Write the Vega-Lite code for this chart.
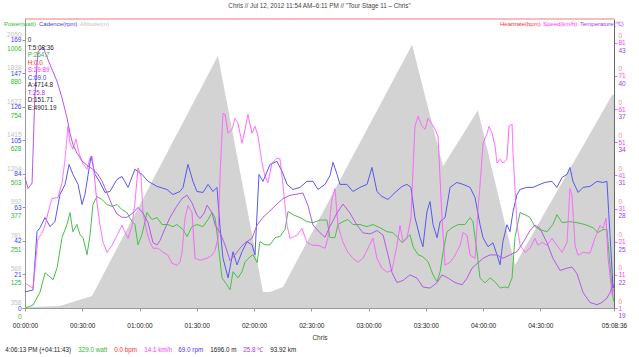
{
  "$schema": "https://vega.github.io/schema/vega-lite/v6.json",
  "width": 589,
  "height": 289,
  "autosize": {"type": "none"},
  "padding": {"left": 25, "top": 19, "right": 25, "bottom": 49},
  "background": "white",
  "title": {"text": "Chris // Jul 12, 2012 11:54 AM–6:11 PM // \"Tour Stage 11 – Chris\"", "fontSize": 6.3, "font": "Liberation Sans", "fontWeight": "normal", "color": "#444", "anchor": "middle", "offset": 8},
  "config": {
    "font": "Liberation Sans",
    "view": {"stroke": null},
    "axis": {"labelFont": "Liberation Sans", "labelFontSize": 6.5, "grid": false},
    "legend": {"labelFont": "Liberation Sans", "labelFontSize": 6, "symbolSize": 0, "symbolOpacity": 0, "symbolStrokeWidth": 0, "labelOffset": -7, "padding": 0, "labelLimit": 300}
  },
  "datasets": {
    "alt": [
      {"t": 0, "alt": 362}, {"t": 4, "alt": 364}, {"t": 18.3, "alt": 371}, {"t": 35.1, "alt": 434},
      {"t": 101.1, "alt": 1949}, {"t": 124.7, "alt": 459}, {"t": 128.4, "alt": 459}, {"t": 135.2, "alt": 491},
      {"t": 202.8, "alt": 2018}, {"t": 219.0, "alt": 1252}, {"t": 237.3, "alt": 1606}, {"t": 256.7, "alt": 630},
      {"t": 307.6, "alt": 1701}, {"t": 308.6, "alt": 1701}
    ],
    "hr": [{"t": 0, "hr": 0}, {"t": 308.6, "hr": 0}],
    "power": [
      {"t":0,"w":0},{"t":4.2,"w":11},{"t":7.9,"w":60},{"t":10.5,"w":132},{"t":13.1,"w":117},{"t":14.7,"w":106},{"t":16.8,"w":151},{"t":19.4,"w":264},{"t":22.0,"w":313},{"t":23.6,"w":358},{"t":25.1,"w":286},{"t":27.2,"w":313},{"t":28.8,"w":275},{"t":30.4,"w":264},{"t":32.5,"w":200},{"t":34.1,"w":275},{"t":35.6,"w":388},{"t":37.7,"w":418},{"t":40.3,"w":407},{"t":43.0,"w":388},{"t":45.6,"w":381},{"t":48.2,"w":388},{"t":50.8,"w":369},{"t":53.4,"w":358},{"t":56.1,"w":324},{"t":57.6,"w":313},{"t":59.2,"w":237},{"t":61.3,"w":275},{"t":63.9,"w":358},{"t":66.5,"w":332},{"t":69.2,"w":339},{"t":71.8,"w":313},{"t":74.9,"w":313},{"t":77.5,"w":305},{"t":79.6,"w":313},{"t":82.8,"w":294},{"t":84.9,"w":268},{"t":87.5,"w":305},{"t":90.1,"w":313},{"t":93.3,"w":305},{"t":95.9,"w":332},{"t":98.0,"w":358},{"t":99.6,"w":339},{"t":101.1,"w":249},{"t":103.2,"w":113},{"t":105.8,"w":87},{"t":107.4,"w":68},{"t":109.0,"w":136},{"t":111.6,"w":113},{"t":113.7,"w":136},{"t":115.3,"w":173},{"t":117.9,"w":192},{"t":119.5,"w":200},{"t":121.6,"w":170},{"t":123.1,"w":249},{"t":125.7,"w":237},{"t":128.4,"w":237},{"t":131.0,"w":264},{"t":133.6,"w":268},{"t":136.2,"w":294},{"t":137.8,"w":362},{"t":140.4,"w":350},{"t":144.1,"w":339},{"t":147.7,"w":324},{"t":150.9,"w":320},{"t":154.6,"w":330},{"t":158.2,"w":330},{"t":159.8,"w":264},{"t":162.4,"w":264},{"t":164.0,"w":313},{"t":166.6,"w":324},{"t":169.2,"w":332},{"t":171.8,"w":313},{"t":175.5,"w":313},{"t":179.2,"w":305},{"t":182.3,"w":313},{"t":186.0,"w":301},{"t":189.7,"w":286},{"t":192.8,"w":283},{"t":195.4,"w":264},{"t":197.5,"w":245},{"t":200.1,"w":264},{"t":201.7,"w":275},{"t":203.3,"w":230},{"t":205.9,"w":200},{"t":208.5,"w":192},{"t":211.2,"w":173},{"t":213.8,"w":124},{"t":215.9,"w":98},{"t":217.5,"w":136},{"t":219.1,"w":211},{"t":221.1,"w":286},{"t":223.7,"w":301},{"t":226.9,"w":313},{"t":230.5,"w":313},{"t":233.2,"w":339},{"t":234.7,"w":324},{"t":236.8,"w":211},{"t":238.4,"w":113},{"t":241.0,"w":94},{"t":243.6,"w":113},{"t":246.3,"w":98},{"t":248.9,"w":75},{"t":251.5,"w":79},{"t":253.1,"w":75},{"t":255.2,"w":113},{"t":256.7,"w":264},{"t":259.4,"w":358},{"t":262.0,"w":350},{"t":264.6,"w":339},{"t":267.2,"w":305},{"t":269.8,"w":294},{"t":273.5,"w":286},{"t":276.6,"w":313},{"t":278.7,"w":350},{"t":281.4,"w":320},{"t":285.5,"w":324},{"t":289.2,"w":320},{"t":293.4,"w":313},{"t":297.6,"w":301},{"t":300.2,"w":283},{"t":302.8,"w":294},{"t":304.9,"w":294},{"t":306.5,"w":162},{"t":308.1,"w":38},{"t":308.6,"w":23}
    ],
    "cad": [
      {"t":0,"c":10.1},{"t":4.2,"c":11.4},{"t":6.3,"c":48.1},{"t":7.9,"c":50.6},{"t":10.5,"c":57.0},{"t":13.1,"c":51.3},{"t":15.7,"c":54.4},{"t":18.3,"c":71.5},{"t":21.0,"c":77.9},{"t":23.1,"c":90.5},{"t":25.1,"c":84.2},{"t":27.8,"c":77.9},{"t":29.9,"c":65.2},{"t":31.4,"c":71.5},{"t":34.6,"c":95.6},{"t":36.7,"c":84.2},{"t":39.3,"c":79.1},{"t":41.9,"c":72.8},{"t":44.5,"c":73.4},{"t":48.2,"c":81.0},{"t":50.8,"c":82.9},{"t":54.0,"c":76.0},{"t":57.6,"c":87.4},{"t":61.3,"c":84.2},{"t":64.5,"c":79.8},{"t":69.2,"c":76.6},{"t":74.4,"c":74.7},{"t":77.5,"c":71.5},{"t":81.2,"c":73.4},{"t":82.8,"c":76.0},{"t":85.4,"c":90.5},{"t":88.0,"c":79.8},{"t":90.1,"c":73.4},{"t":93.3,"c":72.8},{"t":95.9,"c":77.9},{"t":98.5,"c":73.4},{"t":100.6,"c":76.0},{"t":102.2,"c":50.6},{"t":103.7,"c":31.6},{"t":106.4,"c":19.0},{"t":109.0,"c":35.4},{"t":111.1,"c":27.2},{"t":113.7,"c":35.4},{"t":116.3,"c":41.8},{"t":118.9,"c":39.9},{"t":120.5,"c":33.5},{"t":122.6,"c":84.2},{"t":124.7,"c":79.8},{"t":128.4,"c":90.5},{"t":132.0,"c":92.4},{"t":134.7,"c":86.1},{"t":137.3,"c":77.9},{"t":140.4,"c":74.7},{"t":144.1,"c":76.0},{"t":147.7,"c":79.8},{"t":150.9,"c":79.8},{"t":153.5,"c":74.7},{"t":157.2,"c":77.9},{"t":159.8,"c":83.5},{"t":161.4,"c":91.8},{"t":163.5,"c":84.2},{"t":165.0,"c":77.9},{"t":168.7,"c":77.9},{"t":171.8,"c":73.4},{"t":175.5,"c":76.0},{"t":179.2,"c":77.9},{"t":181.8,"c":88.6},{"t":184.4,"c":73.4},{"t":187.0,"c":70.3},{"t":190.2,"c":68.4},{"t":193.9,"c":72.8},{"t":197.5,"c":76.6},{"t":200.1,"c":77.9},{"t":202.2,"c":76.0},{"t":204.3,"c":57.0},{"t":207.0,"c":44.3},{"t":208.5,"c":38.6},{"t":210.6,"c":60.8},{"t":212.2,"c":67.1},{"t":213.8,"c":52.5},{"t":215.9,"c":44.3},{"t":217.5,"c":54.4},{"t":220.1,"c":57.0},{"t":222.7,"c":76.0},{"t":226.3,"c":79.1},{"t":229.5,"c":77.9},{"t":233.2,"c":76.0},{"t":235.8,"c":69.6},{"t":238.4,"c":52.5},{"t":240.0,"c":44.3},{"t":242.6,"c":38.6},{"t":245.2,"c":41.1},{"t":247.3,"c":33.5},{"t":248.9,"c":27.2},{"t":250.4,"c":41.8},{"t":252.5,"c":52.5},{"t":254.1,"c":48.1},{"t":255.7,"c":60.8},{"t":257.8,"c":71.5},{"t":259.4,"c":74.7},{"t":263.0,"c":76.0},{"t":266.2,"c":76.0},{"t":269.8,"c":77.9},{"t":272.4,"c":79.1},{"t":276.1,"c":79.8},{"t":278.7,"c":76.0},{"t":281.4,"c":82.3},{"t":284.0,"c":84.2},{"t":285.5,"c":88.6},{"t":287.1,"c":79.8},{"t":289.8,"c":72.8},{"t":292.4,"c":76.0},{"t":296.0,"c":76.6},{"t":299.7,"c":79.8},{"t":302.8,"c":79.1},{"t":304.9,"c":79.8},{"t":306.5,"c":46.2},{"t":308.1,"c":12.7},{"t":308.6,"c":14.6}
    ],
    "speed": [
      {"t":0,"s":8.5},{"t":4.2,"s":7.0},{"t":6.8,"s":22.0},{"t":8.9,"s":23.5},{"t":10.5,"s":25.9},{"t":12.1,"s":29.8},{"t":14.1,"s":34.0},{"t":17.3,"s":34.3},{"t":19.4,"s":38.8},{"t":21.0,"s":45.9},{"t":22.5,"s":55.8},{"t":23.6,"s":50.7},{"t":25.1,"s":48.9},{"t":26.7,"s":51.9},{"t":28.3,"s":47.7},{"t":30.4,"s":44.4},{"t":32.5,"s":42.9},{"t":34.1,"s":46.2},{"t":35.1,"s":46.8},{"t":36.2,"s":41.7},{"t":37.7,"s":32.8},{"t":39.3,"s":25.9},{"t":40.9,"s":20.8},{"t":43.0,"s":17.8},{"t":45.6,"s":19.9},{"t":48.2,"s":22.9},{"t":50.8,"s":25.9},{"t":52.4,"s":23.8},{"t":54.0,"s":22.0},{"t":56.1,"s":25.9},{"t":57.6,"s":32.8},{"t":59.2,"s":43.2},{"t":60.8,"s":40.8},{"t":61.8,"s":29.8},{"t":63.9,"s":23.8},{"t":65.5,"s":20.8},{"t":67.1,"s":19.0},{"t":69.7,"s":19.0},{"t":72.3,"s":17.8},{"t":74.9,"s":16.9},{"t":77.0,"s":14.5},{"t":79.6,"s":13.9},{"t":81.2,"s":14.8},{"t":82.3,"s":17.8},{"t":83.8,"s":28.0},{"t":85.4,"s":31.9},{"t":87.5,"s":29.8},{"t":89.1,"s":16.0},{"t":91.7,"s":15.4},{"t":95.4,"s":16.0},{"t":98.0,"s":16.9},{"t":99.6,"s":18.4},{"t":101.1,"s":22.0},{"t":102.2,"s":40.8},{"t":103.7,"s":59.7},{"t":104.8,"s":59.4},{"t":106.4,"s":53.7},{"t":108.5,"s":54.9},{"t":110.0,"s":58.2},{"t":111.6,"s":56.7},{"t":113.7,"s":50.7},{"t":115.3,"s":54.9},{"t":116.8,"s":59.4},{"t":118.9,"s":53.7},{"t":120.5,"s":55.8},{"t":122.1,"s":52.8},{"t":124.2,"s":44.7},{"t":125.7,"s":40.8},{"t":127.3,"s":38.8},{"t":129.4,"s":44.7},{"t":132.0,"s":46.2},{"t":133.6,"s":45.9},{"t":135.2,"s":37.9},{"t":137.3,"s":25.9},{"t":138.9,"s":22.0},{"t":142.5,"s":22.9},{"t":145.1,"s":25.0},{"t":147.7,"s":20.8},{"t":150.4,"s":19.9},{"t":153.5,"s":19.9},{"t":157.2,"s":19.0},{"t":158.7,"s":22.0},{"t":160.8,"s":34.0},{"t":162.4,"s":37.0},{"t":164.0,"s":25.9},{"t":166.6,"s":20.8},{"t":169.2,"s":17.8},{"t":171.8,"s":16.0},{"t":174.4,"s":14.8},{"t":177.1,"s":16.0},{"t":179.7,"s":19.0},{"t":182.3,"s":22.0},{"t":184.4,"s":16.0},{"t":187.0,"s":13.0},{"t":189.7,"s":11.8},{"t":192.3,"s":12.4},{"t":194.9,"s":19.9},{"t":196.5,"s":25.9},{"t":198.1,"s":20.8},{"t":200.1,"s":22.0},{"t":202.2,"s":28.0},{"t":204.3,"s":55.8},{"t":205.9,"s":58.8},{"t":208.0,"s":55.8},{"t":209.6,"s":54.9},{"t":211.2,"s":58.2},{"t":213.3,"s":56.4},{"t":214.9,"s":54.9},{"t":216.4,"s":52.8},{"t":218.5,"s":28.0},{"t":220.1,"s":13.9},{"t":222.7,"s":14.8},{"t":225.3,"s":16.9},{"t":228.0,"s":19.9},{"t":229.5,"s":23.8},{"t":231.6,"s":22.9},{"t":233.2,"s":16.9},{"t":235.8,"s":16.0},{"t":237.4,"s":31.0},{"t":238.4,"s":37.9},{"t":240.0,"s":50.7},{"t":242.1,"s":53.7},{"t":243.1,"s":55.8},{"t":244.7,"s":53.7},{"t":246.3,"s":49.8},{"t":247.3,"s":44.7},{"t":248.9,"s":45.9},{"t":250.4,"s":44.7},{"t":252.5,"s":45.9},{"t":253.6,"s":55.8},{"t":255.2,"s":56.4},{"t":255.7,"s":47.7},{"t":257.8,"s":25.9},{"t":259.4,"s":19.9},{"t":262.0,"s":17.8},{"t":264.6,"s":19.0},{"t":267.2,"s":22.0},{"t":268.8,"s":19.9},{"t":270.9,"s":20.8},{"t":273.5,"s":19.9},{"t":276.1,"s":22.0},{"t":278.7,"s":19.9},{"t":281.4,"s":17.8},{"t":284.0,"s":20.8},{"t":285.5,"s":37.0},{"t":286.6,"s":34.9},{"t":288.2,"s":19.9},{"t":289.8,"s":16.9},{"t":292.4,"s":17.8},{"t":296.0,"s":17.5},{"t":298.6,"s":22.0},{"t":301.3,"s":25.9},{"t":302.8,"s":25.0},{"t":304.4,"s":28.0},{"t":305.5,"s":16.0},{"t":307.6,"s":4.9},{"t":308.6,"s":7.0}
    ],
    "temp": [
      {"t":0,"c":30.8},{"t":1.6,"c":29.8},{"t":3.7,"c":30.3},{"t":5.2,"c":38.4},{"t":6.8,"c":42.2},{"t":9.4,"c":42.6},{"t":11.5,"c":41.7},{"t":14.1,"c":40.6},{"t":16.8,"c":39.5},{"t":19.4,"c":38.0},{"t":22.0,"c":36.2},{"t":23.6,"c":34.8},{"t":25.1,"c":33.8},{"t":27.2,"c":33.0},{"t":29.9,"c":32.3},{"t":32.5,"c":31.9},{"t":35.1,"c":31.6},{"t":37.7,"c":31.2},{"t":40.3,"c":30.5},{"t":43.0,"c":29.4},{"t":45.6,"c":28.3},{"t":48.2,"c":27.5},{"t":50.8,"c":27.2},{"t":53.4,"c":27.2},{"t":56.6,"c":27.6},{"t":59.2,"c":28.1},{"t":61.8,"c":27.6},{"t":64.5,"c":26.7},{"t":67.1,"c":24.9},{"t":69.2,"c":24.7},{"t":70.7,"c":25.1},{"t":73.4,"c":26.2},{"t":76.0,"c":27.2},{"t":79.1,"c":28.1},{"t":82.3,"c":28.9},{"t":84.9,"c":29.2},{"t":87.5,"c":28.5},{"t":90.1,"c":27.4},{"t":91.7,"c":27.1},{"t":93.9,"c":27.6},{"t":95.4,"c":28.3},{"t":98.0,"c":27.6},{"t":99.6,"c":26.5},{"t":102.2,"c":25.8},{"t":104.8,"c":24.7},{"t":107.4,"c":23.3},{"t":110.0,"c":23.8},{"t":112.6,"c":24.4},{"t":115.3,"c":24.9},{"t":118.9,"c":25.3},{"t":121.6,"c":26.5},{"t":124.7,"c":27.2},{"t":128.4,"c":27.8},{"t":132.0,"c":28.4},{"t":135.2,"c":28.9},{"t":138.9,"c":29.2},{"t":142.5,"c":29.3},{"t":145.6,"c":29.4},{"t":148.2,"c":28.3},{"t":150.9,"c":26.5},{"t":154.6,"c":25.8},{"t":157.2,"c":25.4},{"t":159.8,"c":26.4},{"t":163.5,"c":27.6},{"t":166.6,"c":28.4},{"t":170.2,"c":27.6},{"t":173.9,"c":26.5},{"t":177.1,"c":25.8},{"t":180.8,"c":25.7},{"t":184.4,"c":26.0},{"t":187.6,"c":25.6},{"t":190.2,"c":23.8},{"t":192.3,"c":22.2},{"t":194.9,"c":21.3},{"t":198.1,"c":21.5},{"t":201.7,"c":22.0},{"t":205.4,"c":21.7},{"t":208.5,"c":20.9},{"t":212.2,"c":20.8},{"t":215.9,"c":21.3},{"t":218.5,"c":22.0},{"t":221.7,"c":21.7},{"t":225.3,"c":21.3},{"t":229.0,"c":21.1},{"t":231.6,"c":21.7},{"t":234.2,"c":22.6},{"t":236.8,"c":23.0},{"t":240.0,"c":23.5},{"t":243.6,"c":23.8},{"t":247.3,"c":23.8},{"t":250.4,"c":23.5},{"t":254.1,"c":23.8},{"t":257.8,"c":24.1},{"t":260.9,"c":24.9},{"t":264.6,"c":26.0},{"t":267.2,"c":26.5},{"t":269.8,"c":26.2},{"t":273.5,"c":24.9},{"t":276.6,"c":23.5},{"t":280.3,"c":22.4},{"t":284.0,"c":22.6},{"t":286.6,"c":22.7},{"t":289.2,"c":22.1},{"t":292.4,"c":20.4},{"t":296.0,"c":19.5},{"t":299.7,"c":19.3},{"t":302.3,"c":19.5},{"t":304.9,"c":19.9},{"t":306.5,"c":20.4},{"t":308.1,"c":21.1}
    ]
  },
  "encoding": {
    "x": {
      "field": "t", "type": "quantitative",
      "scale": {"domain": [0, 308.6], "nice": false, "zero": false},
      "axis": {
        "values": [0, 30, 60, 90, 120, 150, 180, 210, 240, 270, 308.6],
        "labelExpr": "pad(floor(round(datum.value*60)/3600),2,'0','left')+':'+pad(floor(round(datum.value*60)/60)%60,2,'0','left')+':'+pad(round(datum.value*60)%60,2,'0','left')",
        "labelFlush": false, "labelOverlap": false, "labelBound": false,
        "labelColor": "#222", "labelPadding": 11,
        "tickSize": 3, "tickColor": "#999", "domainColor": "#999",
        "title": "Chris", "titleFontSize": 6.5, "titleFontWeight": "normal", "titleColor": "#333", "titleFont": "Liberation Sans",
        "titleBaseline": "middle", "titleY": 29
      }
    }
  },
  "layer": [
    {
      "data": {"name": "alt"},
      "mark": {"type": "area", "interpolate": "linear"},
      "encoding": {
        "y": {"field": "alt", "type": "quantitative", "scale": {"domain": [358, 2180.9], "nice": false, "zero": false},
          "axis": {"orient": "left", "values": [358, 569.5, 781, 992.5, 1204, 1415.5, 1627, 1838.5, 2050], "labelExpr": "floor(datum.value)", "labelColor": "#c4c4c4", "labelOffset": -5.5, "ticks": false, "domain": false, "labelPadding": 4, "title": null}},
        "y2": {"datum": 358},
        "color": {"datum": "Altitude(m)", "scale": {"domain": ["Power(watt)", "Cadence(rpm)", "Altitude(m)"], "range": ["#48c048", "#5858f2", "#d3d3d3"]},
          "legend": {"title": null, "orient": "none", "legendX": -20, "legendY": 2, "direction": "horizontal", "columns": 3, "columnPadding": 2,
            "labelColor": {"expr": "datum.label == 'Power(watt)' ? '#33b833' : datum.label == 'Cadence(rpm)' ? '#3d3dff' : '#c4c4c4'"}}},
        "opacity": {"datum": "1696.0 m", "scale": {"type": "point", "domain": ["4:06:13 PM (+04:11:43)", "329.0 watt", "0.0 bpm", "14.1 km/h", "69.0 rpm", "1696.0 m", "25.8 ℃", "93.92 km"], "range": [1, 1]},
          "legend": {"title": null, "orient": "none", "legendX": -19, "legendY": 328, "direction": "horizontal", "columns": 8, "columnPadding": 6, "labelFontSize": 6.3,
            "labelColor": {"expr": "datum.label == '329.0 watt' ? '#33b833' : datum.label == '0.0 bpm' ? '#ff3333' : datum.label == '14.1 km/h' ? '#ff33ff' : datum.label == '69.0 rpm' ? '#5533ff' : datum.label == '25.8 ℃' ? '#aa33ee' : '#222'"}}}
      }
    },
    {
      "data": {"name": "power"},
      "mark": {"type": "line", "strokeWidth": 1},
      "encoding": {
        "y": {"field": "w", "type": "quantitative", "scale": {"domain": [0, 1083.8], "nice": false},
          "axis": {"orient": "left", "values": [0, 125.75, 251.5, 377.25, 503, 628.75, 754.5, 880.25, 1006], "labelExpr": "floor(datum.value)", "labelColor": "#33b833", "labelOffset": 8.5, "ticks": false, "domain": false, "labelPadding": 4, "title": null}},
        "color": {"datum": "Power(watt)"}
      }
    },
    {
      "data": {"name": "cad"},
      "mark": {"type": "line", "strokeWidth": 1},
      "encoding": {
        "y": {"field": "c", "type": "quantitative", "scale": {"domain": [0, 182.1], "nice": false},
          "axis": {"orient": "left", "values": [0, 21.125, 42.25, 63.375, 84.5, 105.625, 126.75, 147.875, 169], "labelExpr": "floor(datum.value)", "labelColor": "#3d3dff", "tickSize": 3, "tickColor": "#999", "domainColor": "#999", "labelPadding": 1, "title": null}},
        "color": {"datum": "Cadence(rpm)"}
      }
    },
    {
      "data": {"name": "speed"},
      "mark": {"type": "line", "strokeWidth": 1},
      "encoding": {
        "y": {"field": "s", "type": "quantitative", "scale": {"domain": [1, 88.15], "nice": false, "zero": false},
          "axis": {"orient": "right", "values": [1, 11, 21, 31, 41, 51, 61, 71, 81], "labelColor": "#ff40ff", "tickSize": 3, "tickColor": "#ff66ff", "domainColor": "#666", "labelPadding": 1, "title": null}},
        "stroke": {"datum": "Speed(km/h)", "scale": {"domain": ["Heartrate(bpm)", "Speed(km/h)", "Temperature(℃)"], "range": ["#f07c7c", "#ff5cff", "#b25ae8"]},
          "legend": {"title": null, "orient": "none", "legendX": 476, "legendY": 2, "direction": "horizontal", "columns": 3, "columnPadding": 2,
            "labelColor": {"expr": "datum.label == 'Heartrate(bpm)' ? '#ff3344' : datum.label == 'Speed(km/h)' ? '#ff33ff' : '#9a3ae8'"}}},
        "strokeDash": {"datum": "S:29.89", "scale": {"domain": ["0", "T:5:08:36", "P:264.7", "H:0.0", "S:29.89", "C:69.0", "A:4714.8", "T:25.8", "D:151.71", "E:4901.19"], "range": [[1, 0], [1, 0], [1, 0], [1, 0], [1, 0], [1, 0], [1, 0], [1, 0], [1, 0], [1, 0]]},
          "legend": {"title": null, "orient": "none", "legendX": 3.5, "legendY": 18, "direction": "vertical", "columns": 1, "rowPadding": 0.5, "labelFontSize": 6.3,
            "labelColor": {"expr": "datum.label == 'P:264.7' ? '#33b833' : datum.label == 'H:0.0' ? '#ff3333' : datum.label == 'S:29.89' ? '#ff33ff' : datum.label == 'C:69.0' ? '#3d3dff' : datum.label == 'T:25.8' ? '#aa33ee' : '#222'"}}}
      }
    },
    {
      "data": {"name": "temp"},
      "mark": {"type": "line", "strokeWidth": 1},
      "encoding": {
        "y": {"field": "c", "type": "quantitative", "scale": {"domain": [19, 45.14], "nice": false, "zero": false},
          "axis": {"orient": "right", "values": [19, 22, 25, 28, 31, 34, 37, 40, 43], "labelColor": "#a040e0", "labelOffset": 7.5, "ticks": false, "domain": false, "labelPadding": 4, "title": null}},
        "stroke": {"datum": "Temperature(℃)"}
      }
    },
    {
      "data": {"name": "hr"},
      "mark": {"type": "line", "strokeWidth": 1},
      "encoding": {
        "y": {"field": "hr", "type": "quantitative", "scale": {"domain": [-1, 0], "nice": false, "zero": false},
          "axis": {"orient": "right", "values": [-1, -0.88526, -0.77051, -0.65577, -0.54102, -0.42628, -0.31153, -0.19679, -0.08204], "labelExpr": "'0'", "labelColor": "#ff8a8a", "labelOffset": -7, "ticks": false, "domain": false, "labelPadding": 4, "title": null}},
        "stroke": {"datum": "Heartrate(bpm)"}
      }
    }
  ],
  "resolve": {"scale": {"y": "independent"}}
}
